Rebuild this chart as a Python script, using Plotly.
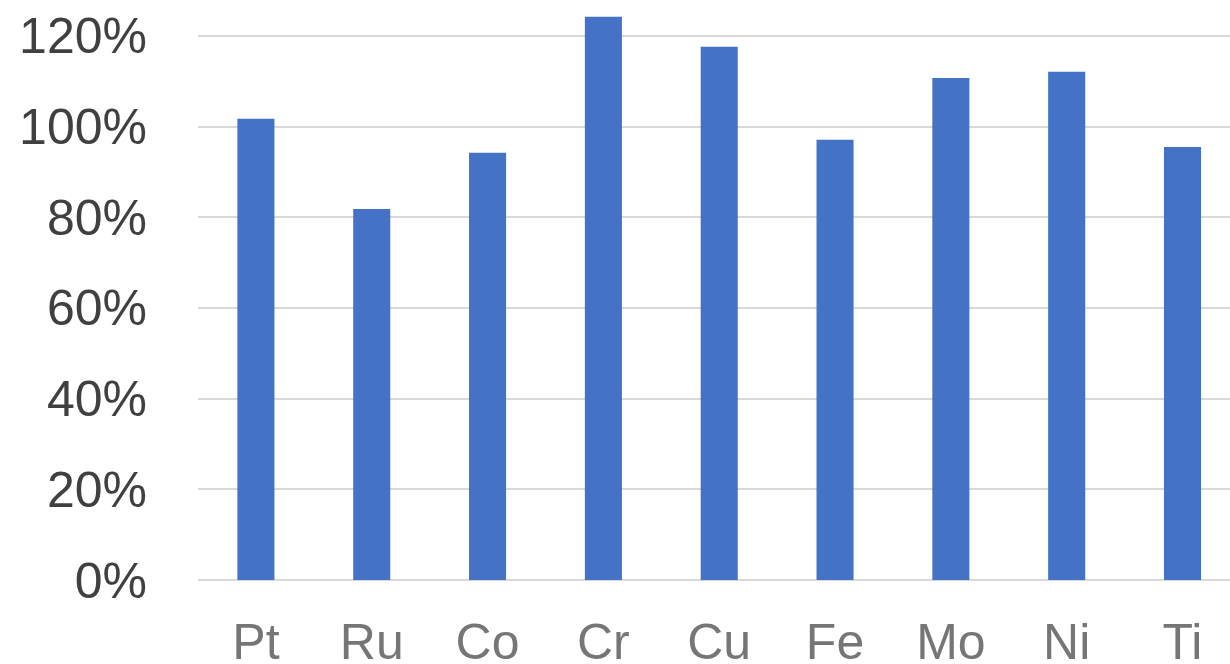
import plotly.graph_objects as go

# Relative values per element, in percent
elements = ["Pt", "Ru", "Co", "Cr", "Cu", "Fe", "Mo", "Ni", "Ti"]
values = [101.7, 81.8, 94.2, 124.2, 117.6, 97.1, 110.7, 112.1, 95.5]
y_ticks = [0, 20, 40, 60, 80, 100, 120]
y_tick_labels = [f"{v}%" for v in y_ticks]

fig = go.Figure(
    go.Bar(
        x=elements,
        y=values,
        marker=dict(color="#4472c4", line=dict(width=0)),
        hoverinfo="x+y",
    )
)

fig.update_layout(
    width=1230,
    height=664,
    margin=dict(l=198, r=0, t=0, b=84, autoexpand=False),
    paper_bgcolor="white",
    plot_bgcolor="white",
    bargap=0.68,
    showlegend=False,
    font=dict(family="Liberation Sans, Arial, sans-serif"),
)

fig.update_xaxes(
    type="category",
    range=[-0.5, 8.41],
    automargin=False,
    showgrid=False,
    showline=False,
    zeroline=False,
    ticks="",
    tickfont=dict(size=50, color="#767676"),
    ticklabelstandoff=28,
)

fig.update_yaxes(
    range=[0, 127.9],
    automargin=False,
    tickvals=y_ticks,
    ticktext=y_tick_labels,
    showgrid=True,
    gridcolor="#d9d9d9",
    gridwidth=1.5,
    zeroline=True,
    zerolinecolor="#d9d9d9",
    zerolinewidth=1.5,
    showline=False,
    ticks="",
    tickfont=dict(size=50, color="#404040"),
    ticklabelstandoff=50,
)

fig.write_html("out.html")
